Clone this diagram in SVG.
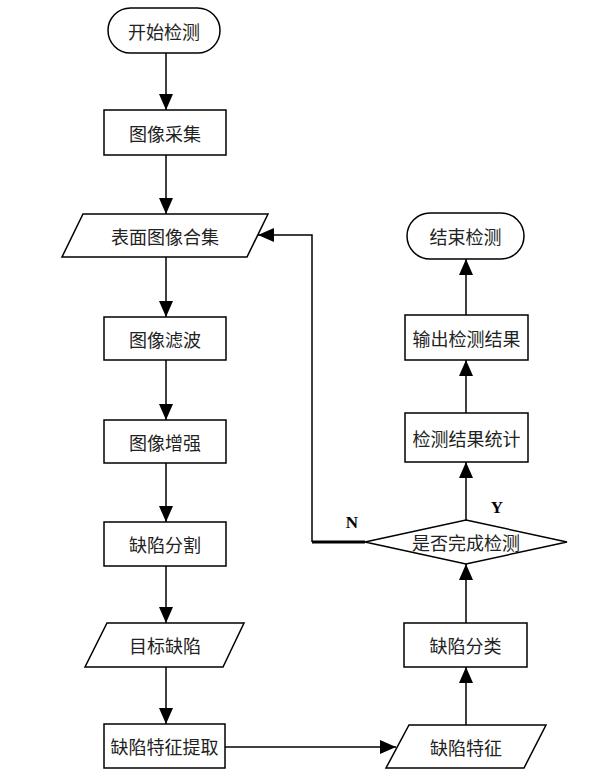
<svg xmlns="http://www.w3.org/2000/svg" width="612" height="784" viewBox="0 0 612 784">
<style>
.s{fill:#fff;stroke:#000;stroke-width:1.5}
.t{font-family:"Noto Sans CJK SC","Noto Sans CJK JP",sans-serif;font-size:18px;fill:#222;text-anchor:middle;dominant-baseline:central}
.c{fill:none;stroke:#000;stroke-width:1.5}
.l{font-family:"Liberation Serif",serif;font-size:17px;font-weight:bold;fill:#000;text-anchor:middle}
</style>
<defs>
<marker id="a" markerUnits="userSpaceOnUse" markerWidth="16" markerHeight="14" viewBox="0 0 16 14" refX="16" refY="7" orient="auto">
<path d="M0,0 L16,7 L0,14 Z" fill="#000"/>
</marker>
</defs>
<rect width="612" height="784" fill="#fff"/>
<g id="connectors">
<line class="c" x1="166" y1="53" x2="166" y2="110" marker-end="url(#a)"/>
<line class="c" x1="166" y1="155" x2="166" y2="214" marker-end="url(#a)"/>
<line class="c" x1="166" y1="257" x2="166" y2="317" marker-end="url(#a)"/>
<line class="c" x1="166" y1="360" x2="166" y2="420" marker-end="url(#a)"/>
<line class="c" x1="166" y1="463" x2="166" y2="522" marker-end="url(#a)"/>
<line class="c" x1="166" y1="566" x2="166" y2="623" marker-end="url(#a)"/>
<line class="c" x1="166" y1="667" x2="166" y2="724" marker-end="url(#a)"/>
<line class="c" x1="225" y1="747" x2="396" y2="747" marker-end="url(#a)"/>
<line class="c" x1="466" y1="725" x2="466" y2="667" marker-end="url(#a)"/>
<line class="c" x1="466" y1="623" x2="466" y2="564" marker-end="url(#a)"/>
<line class="c" x1="466" y1="520" x2="466" y2="462" marker-end="url(#a)"/>
<line class="c" x1="466" y1="413" x2="466" y2="360" marker-end="url(#a)"/>
<line class="c" x1="466" y1="315" x2="466" y2="259" marker-end="url(#a)"/>
<line x1="365" y1="542" x2="312" y2="542" stroke="#000" stroke-width="3"/>
<polyline class="c" points="312,542 312,235 258,235" marker-end="url(#a)"/>
<text class="l" x="497" y="513">Y</text>
<text class="l" x="352" y="528">N</text>
</g>
<g id="start"><rect class="s" x="108" y="8" width="112" height="45" rx="22.5"/><text class="t" x="164" y="30.5">开始检测</text></g>
<g id="capture"><rect class="s" x="104" y="110" width="122" height="45"/><text class="t" x="165" y="132.5">图像采集</text></g>
<g id="surface"><polygon class="s" points="83,214 268,214 247,257 62,257"/><text class="t" x="165" y="235.5">表面图像合集</text></g>
<g id="filter"><rect class="s" x="104" y="317" width="122" height="43"/><text class="t" x="165" y="338.5">图像滤波</text></g>
<g id="enhance"><rect class="s" x="104" y="420" width="122" height="43"/><text class="t" x="165" y="441.5">图像增强</text></g>
<g id="segment"><rect class="s" x="104" y="522" width="122" height="44"/><text class="t" x="165" y="544">缺陷分割</text></g>
<g id="target"><polygon class="s" points="107,623 244,623 223,667 85,667"/><text class="t" x="165" y="645">目标缺陷</text></g>
<g id="extract"><rect class="s" x="104" y="724" width="121" height="44"/><text class="t" x="164.5" y="746">缺陷特征提取</text></g>
<g id="feature"><polygon class="s" points="409,725 546,725 524,768 386,768"/><text class="t" x="466" y="746.5">缺陷特征</text></g>
<g id="classify"><rect class="s" x="404" y="623" width="123" height="44"/><text class="t" x="465.5" y="645">缺陷分类</text></g>
<g id="decision"><polygon class="s" points="466,520 567,542 466,564 365,542"/><text class="t" x="466" y="542">是否完成检测</text></g>
<g id="stats"><rect class="s" x="405" y="413" width="123" height="49"/><text class="t" x="466.5" y="437.5">检测结果统计</text></g>
<g id="output"><rect class="s" x="405" y="315" width="123" height="45"/><text class="t" x="466.5" y="337.5">输出检测结果</text></g>
<g id="end"><rect class="s" x="407" y="213" width="117" height="46" rx="23"/><text class="t" x="465.5" y="236">结束检测</text></g>
</svg>
